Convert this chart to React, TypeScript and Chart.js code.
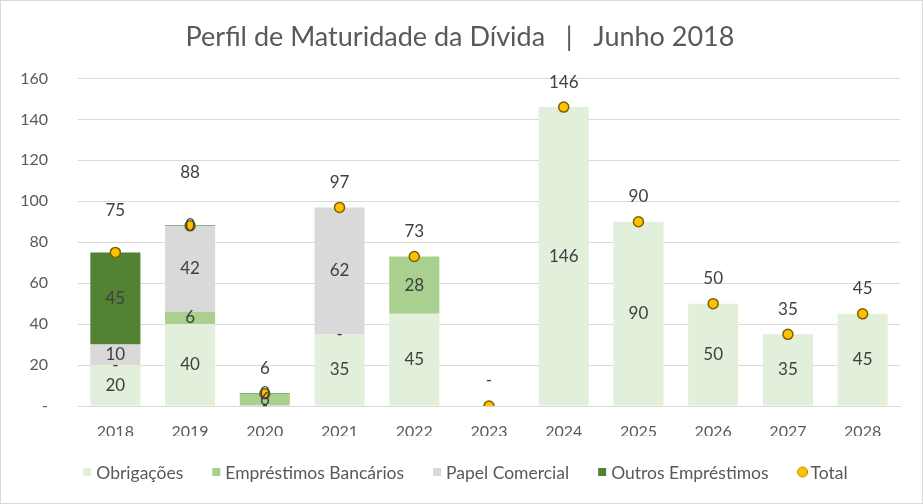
import React, { useEffect, useRef } from "react";
import { Chart, registerables } from "chart.js";

Chart.register(...registerables);

const YEARS = ["2018", "2019", "2020", "2021", "2022", "2023", "2024", "2025", "2026", "2027", "2028"];
const OBRIGACOES = [20, 40, 0, 35, 45, null, 146, 90, 50, 35, 45];
const EMPRESTIMOS_BANCARIOS = [0, 6, 6, 0, 28, null, null, null, null, null, null];
const PAPEL_COMERCIAL = [10, 42, null, 62, null, null, null, null, null, null, null];
const OUTROS_EMPRESTIMOS = [45, 0.4, 0.4, null, null, null, null, null, null, null, null];
const TOTAL = [75, 88, 6, 97, 73, 0, 146, 90, 50, 35, 45];
const Y_TICKS = [0, 20, 40, 60, 80, 100, 120, 140, 160];

const TITLE = "Perfil de Maturidade da Dívida   |   Junho 2018";
const FONT = "Lato, 'Open Sans', sans-serif";
const TEXT = "#595959";
const LABEL = "#404040";
// extra lift (px) of total labels for a few categories, as in the original layout
const TOTAL_LABEL_LIFT: Record<number, number> = { 0: 42, 1: 53 };
const DEFAULT_LIFT = 25;

const fmt = (v: number) => (v === 0 ? "-" : String(Math.round(v)));

const labelsPlugin = {
  id: "valueLabels",
  afterDatasetsDraw(chart: any) {
    const ctx = chart.ctx;
    ctx.save();
    ctx.fillStyle = LABEL;
    ctx.textAlign = "center";
    ctx.textBaseline = "middle";
    ctx.font = `17px ${FONT}`;
    chart.data.datasets.forEach((ds: any, i: number) => {
      const meta = chart.getDatasetMeta(i);
      meta.data.forEach((el: any, j: number) => {
        const v = ds.data[j];
        if (v === null || v === undefined) return;
        if (ds.type === "line") {
          const lift = TOTAL_LABEL_LIFT[j] ?? DEFAULT_LIFT;
          ctx.fillText(fmt(v), el.x, el.y - lift);
        } else {
          ctx.fillText(fmt(v), el.x, (el.y + el.base) / 2);
        }
      });
    });
    ctx.restore();
  },
};

const legendPlugin = {
  id: "customLegend",
  afterDraw(chart: any) {
    const ctx = chart.ctx;
    const ds = chart.data.datasets;
    const order = [1, 2, 3, 4, 0];
    const box = 8;
    const toText = 13;
    const spacing = 29;
    const cy = chart.chartArea.bottom + 66;
    ctx.save();
    ctx.font = `17.5px ${FONT}`;
    ctx.textBaseline = "middle";
    ctx.textAlign = "left";
    const widths = order.map((i) => toText + ctx.measureText(ds[i].label).width);
    const total = widths.reduce((a, b) => a + b, 0) + spacing * (order.length - 1);
    let x = chart.width / 2 + 4 - total / 2;
    order.forEach((i, k) => {
      const d = ds[i];
      if (d.type === "line") {
        ctx.beginPath();
        ctx.arc(x + 5, cy, 5, 0, Math.PI * 2);
        ctx.fillStyle = "#ffc000";
        ctx.fill();
        ctx.lineWidth = 1;
        ctx.strokeStyle = "#bf9000";
        ctx.stroke();
      } else {
        ctx.fillStyle = d.backgroundColor;
        ctx.fillRect(x, cy - box / 2, box, box);
      }
      ctx.fillStyle = TEXT;
      ctx.fillText(d.label, x + toText, cy + 1);
      x += widths[k] + spacing;
    });
    ctx.restore();
  },
};

const framePlugin = {
  id: "frame",
  beforeDraw(chart: any) {
    const ctx = chart.ctx;
    ctx.save();
    ctx.fillStyle = "#ffffff";
    ctx.fillRect(0, 0, chart.width, chart.height);
    ctx.restore();
  },
  afterDraw(chart: any) {
    const ctx = chart.ctx;
    ctx.save();
    ctx.strokeStyle = "#d9d9d9";
    ctx.lineWidth = 1;
    ctx.strokeRect(0.5, 0.5, chart.width - 1, chart.height - 1);
    ctx.restore();
  },
};

export default function App() {
  const ref = useRef<HTMLCanvasElement | null>(null);
  useEffect(() => {
    if (!ref.current) return;
    const barCommon = { categoryPercentage: 1, barPercentage: 0.67, borderWidth: 0 };
    const chart = new Chart(ref.current, {
      type: "bar",
      data: {
        labels: YEARS,
        datasets: [
          { type: "line", label: "Total", data: TOTAL, showLine: false, pointRadius: 5, pointHoverRadius: 5,
            pointBackgroundColor: "#ffc000", pointBorderColor: "#7f6000", pointBorderWidth: 1.5,
            backgroundColor: "#ffc000", borderColor: "#7f6000", order: 0 } as any,
          { label: "Obrigações", data: OBRIGACOES, backgroundColor: "#e2efda", order: 1, ...barCommon },
          { label: "Empréstimos Bancários", data: EMPRESTIMOS_BANCARIOS, backgroundColor: "#a9d08e", order: 1, ...barCommon },
          { label: "Papel Comercial", data: PAPEL_COMERCIAL, backgroundColor: "#d9d9d9", order: 1, ...barCommon },
          { label: "Outros Empréstimos", data: OUTROS_EMPRESTIMOS, backgroundColor: "#548235", order: 1, ...barCommon },
        ],
      },
      options: {
        responsive: false,
        animation: false,
        layout: { padding: { left: 20, right: 23, top: 0, bottom: 68 } },
        plugins: {
          tooltip: { enabled: false },
          legend: { display: false },
          title: {
            display: true,
            text: TITLE,
            color: TEXT,
            font: { family: FONT, size: 27, weight: "normal" },
            padding: { top: 21, bottom: 25 },
          },
        },
        scales: {
          x: {
            stacked: true,
            grid: { display: false, drawTicks: false },
            border: { display: true, color: "#d9d9d9" },
            ticks: { color: TEXT, font: { family: FONT, size: 16 }, padding: 16 },
            afterFit: (axis: any) => {
              axis.height = 30;
            },
          },
          y: {
            stacked: true,
            min: 0,
            max: 160,
            afterBuildTicks: (axis: any) => {
              axis.ticks = Y_TICKS.map((v) => ({ value: v }));
            },
            grid: { color: "#d9d9d9", drawTicks: false },
            border: { display: false },
            ticks: {
              color: TEXT,
              font: { family: FONT, size: 16 },
              padding: 30,
              callback: (v: any) => fmt(Number(v)),
            },
            afterFit: (axis: any) => {
              axis.width = 58;
            },
          },
        },
      },
      plugins: [labelsPlugin, legendPlugin, framePlugin],
    } as any);
    return () => chart.destroy();
  }, []);
  return (
    <div style={{ position: "fixed", left: 0, top: 0, width: 923, height: 504 }}>
      <canvas ref={ref} width={923} height={504} />
    </div>
  );
}
